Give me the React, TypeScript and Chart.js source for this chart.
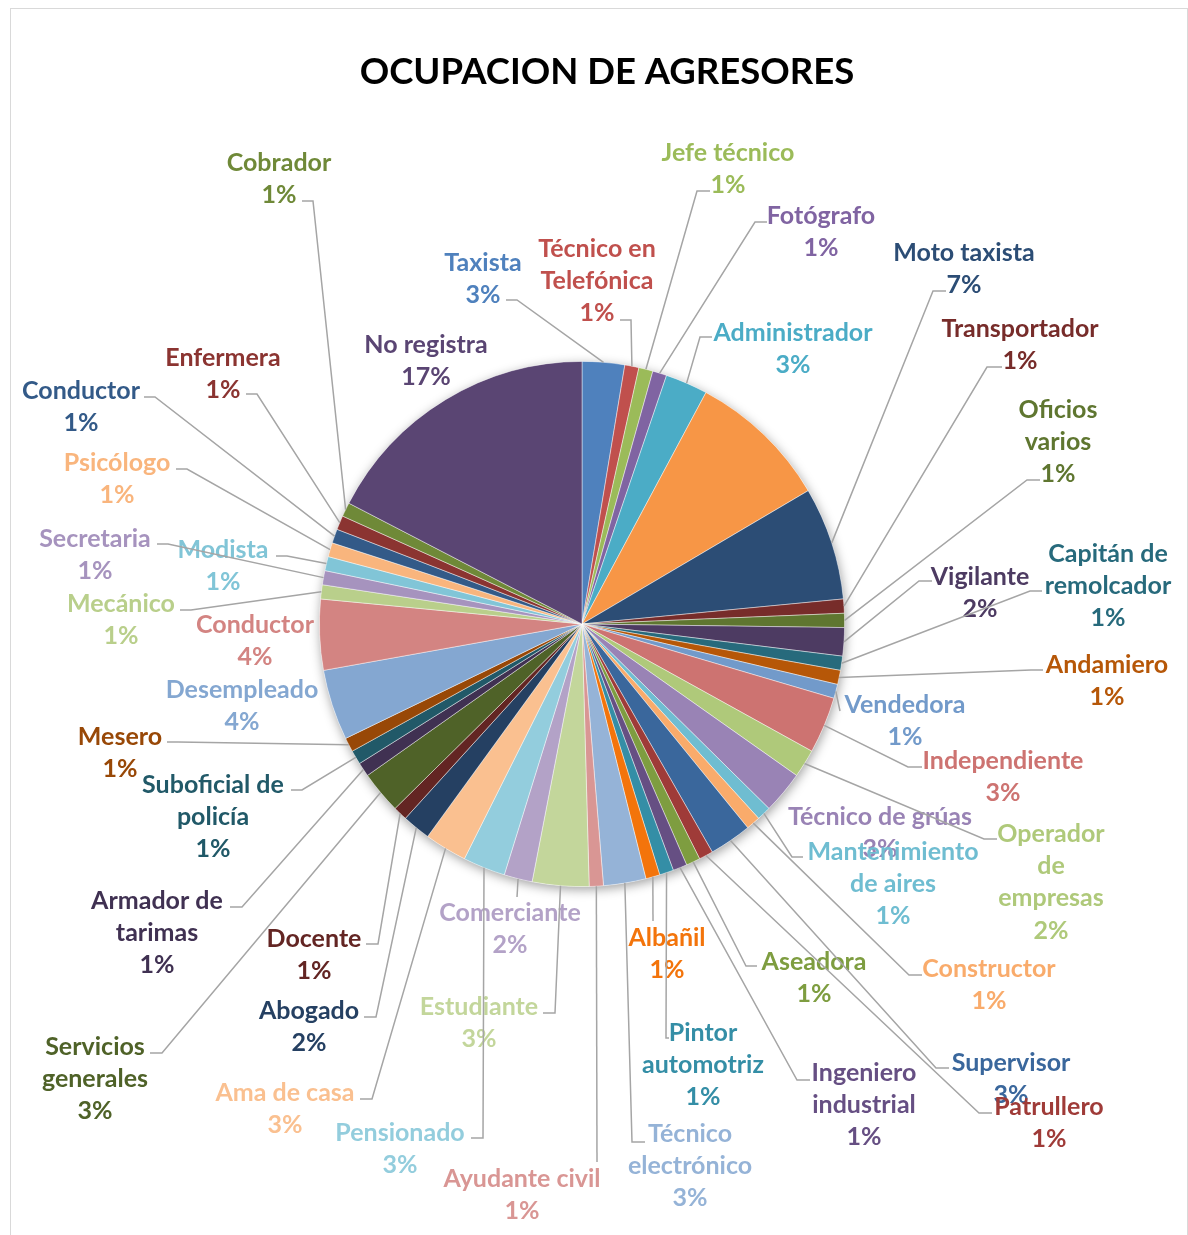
import React, { useEffect, useRef } from "react";
import { Chart, registerables } from "chart.js";

Chart.register(...registerables);

// ---------- DATA ----------
const chartTitle = "OCUPACION DE AGRESORES";

const categories: string[] = [
  "Taxista", "Técnico en\nTelefónica", "Jefe técnico", "Fotógrafo", "Administrador", "",
  "Moto taxista", "Transportador", "Oficios\nvarios", "Vigilante", "Capitán de\nremolcador", "Andamiero",
  "Vendedora", "Independiente", "Operador\nde\nempresas", "Técnico de grúas", "Mantenimiento\nde aires", "Constructor",
  "Supervisor", "Patrullero", "Aseadora", "Ingeniero\nindustrial", "Pintor\nautomotriz", "Albañil",
  "Técnico\nelectrónico", "Ayudante civil", "Estudiante", "Comerciante", "Pensionado", "Ama de casa",
  "Abogado", "Docente", "Servicios\ngenerales", "Armador de\ntarimas", "Suboficial de\npolicía", "Mesero",
  "Desempleado", "Conductor", "Mecánico", "Secretaria", "Modista", "Psicólogo",
  "Conductor", "Enfermera", "Cobrador", "No registra",
];

const counts: number[] = [
  3, 1, 1, 1, 3, 10,
  8, 1, 1, 2, 1, 1,
  1, 4, 2, 3, 1, 1,
  3, 1, 1, 1, 1, 1,
  3, 1, 4, 2, 3, 3,
  2, 1, 3, 1, 1, 1,
  5, 5, 1, 1, 1, 1,
  1, 1, 1, 20,
];

// ---------- STYLE / LAYOUT ----------
// Office theme accents as HSL [h, s, l]
const accents: number[][] = [
  [212.7, 0.454, 0.5255],
  [1.6, 0.477, 0.5275],
  [79.6, 0.419, 0.541],
  [267.1, 0.25, 0.514],
  [192.7, 0.519, 0.535],
  [27.1, 0.917, 0.6216],
];
// variation per group of six: [kind, amount]  (shade multiplies L, tint moves toward white)
const tiers: [string, number][] = [
  ["none", 0], ["shade", 0.6], ["tint", 0.2], ["shade", 0.8],
  ["tint", 0.4], ["shade", 0.5], ["tint", 0.3], ["shade", 0.7],
];

function sliceColor(i: number): string {
  const [h, s, l] = accents[i % 6];
  const [kind, amt] = tiers[Math.floor(i / 6) % tiers.length];
  let L = l;
  if (kind === "shade") L = l * amt;
  if (kind === "tint") L = l + (1 - l) * amt;
  return `hsl(${h}, ${(s * 100).toFixed(1)}%, ${(L * 100).toFixed(1)}%)`;
}

// label centres (first line), page pixels
const labelPos: ([number, number] | null)[] = [
  [483, 262], [597, 248], [728, 152], [821, 215], [793, 332], null,
  [964, 252], [1020, 328], [1058, 409], [980, 576], [1108, 553], [1107, 664],
  [905, 704], [1003, 760], [1051, 833], [880, 816], [893, 851], [989, 968],
  [1011, 1062], [1049, 1106], [814, 961], [864, 1072], [703, 1032], [667, 937],
  [690, 1133], [522, 1178], [479, 1006], [510, 912], [400, 1132], [285, 1092],
  [309, 1010], [314, 938], [95, 1046], [157, 900], [213, 784], [120, 736],
  [242, 689], [255, 624], [121, 603], [95, 538], [223, 549], [117, 462],
  [81, 390], [223, 357], [279, 162], [426, 344],
];

// leader line anchor next to the label: [x, y, horizontal elbow length]
const leaderAnchor: ([number, number, number] | null)[] = [
  [506, 300, 11], [620, 320, 11], [710, 191, -13], [767, 222, -12], [712, 337, -12], null,
  [946, 291, -13], [1002, 367, -15], [1040, 480, -13], [932, 581, -13], [1042, 591, -12], [1043, 670, -12],
  [840, 711, 0], [922, 767, -14], [997, 839, -13], null, [803, 857, -11], [922, 975, -13],
  [949, 1068, -13], [992, 1113, -13], [757, 966, -11], [810, 1080, -13], [669, 1038, -3], [653, 921, 0],
  [645, 1142, -13], [597, 1162, 0], [543, 1013, 12], [517, 897, 0], [471, 1138, 12], [360, 1099, 12],
  [364, 1017, 12], [366, 944, 12], [150, 1053, 12], [230, 907, 12], [291, 790, 11], [167, 742, 11],
  null, null, [180, 610, 11], [157, 544, 11], [276, 556, 11], [176, 469, 11],
  [144, 397, 11], [246, 394, 11], [302, 201, 11], null,
];

const FONT = "Lato, 'Open Sans', sans-serif";
const LABEL_SIZE = 25;
const LINE_H = 32.2;
const TITLE_SIZE = 36.5;
const W = 1188;
const H = 1235;

const overlayPlugin = {
  id: "pieOverlay",
  beforeDatasetsDraw(chart: any) {
    const arc = chart.getDatasetMeta(0).data[0];
    if (!arc) return;
    const { x, y, outerRadius } = arc.getProps(["x", "y", "outerRadius"], true);
    const ctx = chart.ctx;
    ctx.save();
    ctx.shadowColor = "rgba(0,0,0,0.38)";
    ctx.shadowBlur = 11;
    ctx.shadowOffsetX = 1;
    ctx.shadowOffsetY = 3;
    ctx.beginPath();
    ctx.arc(x, y, outerRadius, 0, Math.PI * 2);
    ctx.fillStyle = "#ffffff";
    ctx.fill();
    ctx.restore();
  },
  afterDatasetsDraw(chart: any) {
    const ctx = chart.ctx;
    const data: number[] = chart.data.datasets[0].data;
    const total = data.reduce((a: number, b: number) => a + b, 0);
    const colors: string[] = chart.data.datasets[0].backgroundColor;
    const meta = chart.getDatasetMeta(0);

    ctx.save();
    // title
    ctx.fillStyle = "#000000";
    ctx.font = `bold ${TITLE_SIZE}px ${FONT}`;
    ctx.textAlign = "center";
    ctx.textBaseline = "middle";
    ctx.fillText(chartTitle, 607, 72);

    // labels
    ctx.font = `bold ${LABEL_SIZE}px ${FONT}`;
    categories.forEach((name, i) => {
      const pos = labelPos[i];
      if (!pos || !name) return;
      const lines = name.split("\n");
      lines.push(Math.round((data[i] / total) * 100) + "%");
      ctx.fillStyle = colors[i];
      lines.forEach((ln, k) => ctx.fillText(ln, pos[0], pos[1] + 1 + k * LINE_H));
    });

    // leader lines
    ctx.strokeStyle = "#a5a5a5";
    ctx.lineWidth = 1.5;
    categories.forEach((_, i) => {
      const a = leaderAnchor[i];
      const el = meta.data[i];
      if (!a || !el) return;
      const p = el.getProps(["x", "y", "startAngle", "endAngle", "outerRadius"], true);
      const mid = (p.startAngle + p.endAngle) / 2;
      const ex = p.x + Math.cos(mid) * p.outerRadius;
      const ey = p.y + Math.sin(mid) * p.outerRadius;
      ctx.beginPath();
      ctx.moveTo(a[0], a[1]);
      ctx.lineTo(a[0] + a[2], a[1]);
      ctx.lineTo(ex, ey);
      ctx.stroke();
    });
    ctx.restore();
  },
};

export default function App() {
  const ref = useRef<HTMLCanvasElement | null>(null);

  useEffect(() => {
    if (!ref.current) return;
    const chart = new Chart(ref.current, {
      type: "pie",
      data: {
        labels: categories.map((c) => c.replace(/\n/g, " ")),
        datasets: [
          {
            data: counts,
            backgroundColor: counts.map((_, i) => sliceColor(i)),
            borderColor: "rgba(255,255,255,0.55)",
            borderWidth: 0.8,
          },
        ],
      },
      options: {
        responsive: false,
        animation: false,
        devicePixelRatio: 1,
        layout: { padding: { left: 319, right: 343, top: 361, bottom: 348 } },
        plugins: {
          legend: { display: false },
          tooltip: { enabled: false },
          title: { display: false },
        },
      },
      plugins: [overlayPlugin],
    });
    return () => chart.destroy();
  }, []);

  return (
    <div style={{ position: "absolute", left: 0, top: 0, width: W, height: H, overflow: "hidden", background: "#fff" }}>
      <div
        style={{
          position: "absolute",
          left: 10,
          top: 8,
          width: 1178,
          height: 1260,
          border: "1px solid #d9d9d9",
          boxSizing: "border-box",
        }}
      />
      <canvas ref={ref} width={W} height={H} style={{ position: "absolute", left: 0, top: 0 }} />
    </div>
  );
}
